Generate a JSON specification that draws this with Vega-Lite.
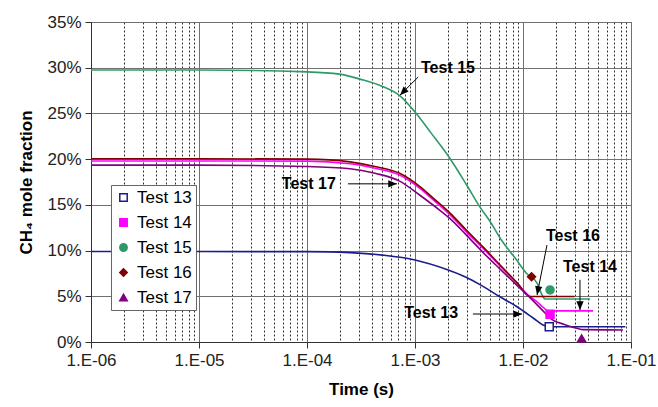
{
  "$schema": "https://vega.github.io/schema/vega-lite/v6.json",
  "width": 540,
  "height": 320,
  "autosize": {"type": "none"},
  "padding": {"left": 91, "top": 22, "right": 27, "bottom": 65},
  "background": "white",
  "config": {
    "font": "Liberation Sans",
    "view": {"stroke": "#6e6e6e", "strokeWidth": 1}
  },
  "datasets": {
    "curves": [
      {"test": "Test 13", "t": 1e-6, "f": 0.099},
      {"test": "Test 13", "t": 1e-5, "f": 0.099},
      {"test": "Test 13", "t": 1e-4, "f": 0.0988},
      {"test": "Test 13", "t": 2.5e-4, "f": 0.0978},
      {"test": "Test 13", "t": 5e-4, "f": 0.095},
      {"test": "Test 13", "t": 1e-3, "f": 0.0897},
      {"test": "Test 13", "t": 2e-3, "f": 0.079},
      {"test": "Test 13", "t": 3e-3, "f": 0.0705},
      {"test": "Test 13", "t": 4e-3, "f": 0.0628},
      {"test": "Test 13", "t": 6e-3, "f": 0.05},
      {"test": "Test 13", "t": 8.8e-3, "f": 0.0386},
      {"test": "Test 13", "t": 0.0125, "f": 0.026},
      {"test": "Test 13", "t": 0.0153, "f": 0.0186},
      {"test": "Test 13", "t": 0.0175, "f": 0.0167},
      {"test": "Test 13", "t": 0.0886, "f": 0.0167},
      {"test": "Test 14", "t": 1e-6, "f": 0.198},
      {"test": "Test 14", "t": 1e-5, "f": 0.198},
      {"test": "Test 14", "t": 1e-4, "f": 0.1978},
      {"test": "Test 14", "t": 2.5e-4, "f": 0.195},
      {"test": "Test 14", "t": 4.26e-4, "f": 0.19},
      {"test": "Test 14", "t": 7.2e-4, "f": 0.1825},
      {"test": "Test 14", "t": 1.11e-3, "f": 0.168},
      {"test": "Test 14", "t": 1.52e-3, "f": 0.154},
      {"test": "Test 14", "t": 2.11e-3, "f": 0.139},
      {"test": "Test 14", "t": 2.96e-3, "f": 0.121},
      {"test": "Test 14", "t": 4.26e-3, "f": 0.1025},
      {"test": "Test 14", "t": 6.1e-3, "f": 0.0835},
      {"test": "Test 14", "t": 8.8e-3, "f": 0.064},
      {"test": "Test 14", "t": 0.0116, "f": 0.0495},
      {"test": "Test 14", "t": 0.0135, "f": 0.044},
      {"test": "Test 14", "t": 0.0155, "f": 0.0375},
      {"test": "Test 14", "t": 0.0172, "f": 0.034},
      {"test": "Test 14", "t": 0.0446, "f": 0.034},
      {"test": "Test 15", "t": 1e-6, "f": 0.2975},
      {"test": "Test 15", "t": 1e-5, "f": 0.2975},
      {"test": "Test 15", "t": 1e-4, "f": 0.2955},
      {"test": "Test 15", "t": 2e-4, "f": 0.293},
      {"test": "Test 15", "t": 3.1e-4, "f": 0.2875},
      {"test": "Test 15", "t": 5e-4, "f": 0.2795},
      {"test": "Test 15", "t": 7.3e-4, "f": 0.269},
      {"test": "Test 15", "t": 1e-3, "f": 0.2515},
      {"test": "Test 15", "t": 1.4e-3, "f": 0.229},
      {"test": "Test 15", "t": 2.1e-3, "f": 0.201},
      {"test": "Test 15", "t": 3e-3, "f": 0.172},
      {"test": "Test 15", "t": 4e-3, "f": 0.1475},
      {"test": "Test 15", "t": 4.94e-3, "f": 0.132},
      {"test": "Test 15", "t": 6.35e-3, "f": 0.111},
      {"test": "Test 15", "t": 8.5e-3, "f": 0.0915},
      {"test": "Test 15", "t": 0.0108, "f": 0.075},
      {"test": "Test 15", "t": 0.0135, "f": 0.0645},
      {"test": "Test 15", "t": 0.0146, "f": 0.0545},
      {"test": "Test 15", "t": 0.016, "f": 0.047},
      {"test": "Test 15", "t": 0.0417, "f": 0.047},
      {"test": "Test 16", "t": 1e-6, "f": 0.2005},
      {"test": "Test 16", "t": 1e-5, "f": 0.2005},
      {"test": "Test 16", "t": 1e-4, "f": 0.2},
      {"test": "Test 16", "t": 2.5e-4, "f": 0.197},
      {"test": "Test 16", "t": 4.26e-4, "f": 0.192},
      {"test": "Test 16", "t": 7.2e-4, "f": 0.1845},
      {"test": "Test 16", "t": 1.11e-3, "f": 0.17},
      {"test": "Test 16", "t": 1.52e-3, "f": 0.156},
      {"test": "Test 16", "t": 2.11e-3, "f": 0.141},
      {"test": "Test 16", "t": 2.96e-3, "f": 0.123},
      {"test": "Test 16", "t": 4.26e-3, "f": 0.104},
      {"test": "Test 16", "t": 6.1e-3, "f": 0.0845},
      {"test": "Test 16", "t": 8.8e-3, "f": 0.065},
      {"test": "Test 16", "t": 0.0116, "f": 0.0498},
      {"test": "Test 16", "t": 0.03, "f": 0.0498},
      {"test": "Test 17", "t": 1e-6, "f": 0.1935},
      {"test": "Test 17", "t": 1e-5, "f": 0.1935},
      {"test": "Test 17", "t": 1e-4, "f": 0.192},
      {"test": "Test 17", "t": 2.5e-4, "f": 0.1895},
      {"test": "Test 17", "t": 4.26e-4, "f": 0.1845},
      {"test": "Test 17", "t": 7.2e-4, "f": 0.176},
      {"test": "Test 17", "t": 1.11e-3, "f": 0.1605},
      {"test": "Test 17", "t": 1.7e-3, "f": 0.144},
      {"test": "Test 17", "t": 2.11e-3, "f": 0.135},
      {"test": "Test 17", "t": 2.96e-3, "f": 0.1175},
      {"test": "Test 17", "t": 4.26e-3, "f": 0.098},
      {"test": "Test 17", "t": 6.1e-3, "f": 0.08},
      {"test": "Test 17", "t": 8.8e-3, "f": 0.062},
      {"test": "Test 17", "t": 0.0116, "f": 0.0485},
      {"test": "Test 17", "t": 0.0159, "f": 0.032},
      {"test": "Test 17", "t": 0.0178, "f": 0.026},
      {"test": "Test 17", "t": 0.0245, "f": 0.019},
      {"test": "Test 17", "t": 0.0316, "f": 0.015},
      {"test": "Test 17", "t": 0.036, "f": 0.0135},
      {"test": "Test 17", "t": 0.0843, "f": 0.0132}
    ],
    "markers": [
      {"series": "Test 13", "t": 0.0175, "f": 0.0167},
      {"series": "Test 14", "t": 0.0178, "f": 0.0303},
      {"series": "Test 15", "t": 0.0178, "f": 0.0569},
      {"series": "Test 16", "t": 0.012, "f": 0.0714},
      {"series": "Test 17", "t": 0.0349, "f": 0.004}
    ],
    "arrows": [
      {"label": "Test 13", "tx": 1.41e-3, "ty": 0.0317, "x1": 3.44e-3, "y1": 0.0306, "x2": 9.8e-3, "y2": 0.0306},
      {"label": "Test 14", "tx": 0.0417, "ty": 0.082, "x1": 0.0337, "y1": 0.068, "x2": 0.0337, "y2": 0.035},
      {"label": "Test 15", "tx": 2.02e-3, "ty": 0.2997, "x1": 1.07e-3, "y1": 0.2898, "x2": 7.26e-4, "y2": 0.27},
      {"label": "Test 16", "tx": 0.029, "ty": 0.116, "x1": 0.01667, "y1": 0.106, "x2": 0.0135, "y2": 0.0515},
      {"label": "Test 17", "tx": 1.04e-4, "ty": 0.173, "x1": 2.4e-4, "y1": 0.173, "x2": 6.8e-4, "y2": 0.173}
    ]
  },
  "layer": [
    {
      "data": {"name": "curves"},
      "mark": {"type": "line", "strokeWidth": 1.6, "interpolate": "monotone"},
      "encoding": {
        "x": {
          "field": "t", "type": "quantitative",
          "scale": {"type": "log", "domain": [1e-6, 0.1], "nice": false},
          "axis": {
            "title": "Time (s)",
            "titleFontSize": 17, "titleFontWeight": "bold", "titleColor": "#000", "titlePadding": 13,
            "values": [1e-6, 2e-6, 3e-6, 4e-6, 5e-6, 6e-6, 7e-6, 8e-6, 9e-6,
                       1e-5, 2e-5, 3e-5, 4e-5, 5e-5, 6e-5, 7e-5, 8e-5, 9e-5,
                       1e-4, 2e-4, 3e-4, 4e-4, 5e-4, 6e-4, 7e-4, 8e-4, 9e-4,
                       1e-3, 2e-3, 3e-3, 4e-3, 5e-3, 6e-3, 7e-3, 8e-3, 9e-3,
                       1e-2, 2e-2, 3e-2, 4e-2, 5e-2, 6e-2, 7e-2, 8e-2, 9e-2, 1e-1],
            "labelExpr": "abs(log(datum.value)/LN10 - round(log(datum.value)/LN10)) < 0.01 ? '1.E-0' + round(-log(datum.value)/LN10) : ''",
            "labelOverlap": false,
            "labelFlush": false,
            "labelFontSize": 17, "labelColor": "#222", "labelPadding": 4,
            "grid": true,
            "gridColor": {"condition": {"test": "abs(log(datum.value)/LN10 - round(log(datum.value)/LN10)) < 0.01", "value": "#707070"}, "value": "#333333"},
            "gridDash": {"condition": {"test": "abs(log(datum.value)/LN10 - round(log(datum.value)/LN10)) < 0.01", "value": []}, "value": [2, 2]},
            "gridWidth": 1,
            "tickOpacity": {"condition": {"test": "abs(log(datum.value)/LN10 - round(log(datum.value)/LN10)) < 0.01", "value": 1}, "value": 0},
            "tickSize": 6, "tickColor": "#333", "domainColor": "#333"
          }
        },
        "y": {
          "field": "f", "type": "quantitative",
          "scale": {"domain": [0, 0.35], "nice": false, "zero": true},
          "axis": {
            "title": "CH₄ mole fraction",
            "titleFontSize": 17, "titleFontWeight": "bold", "titleColor": "#000", "titlePadding": 11,
            "values": [0, 0.05, 0.1, 0.15, 0.2, 0.25, 0.3, 0.35],
            "format": ".0%",
            "labelFontSize": 17, "labelColor": "#222", "labelPadding": 4,
            "grid": true, "gridColor": "#707070", "gridWidth": 1,
            "tickSize": 6, "tickColor": "#333", "domainColor": "#333"
          }
        },
        "color": {
          "field": "test", "type": "nominal",
          "scale": {"range": ["#1c1c8c", "#ff00ff", "#2f9a68", "#800000", "#800080"]},
          "legend": null
        }
      }
    },
    {
      "data": {"name": "markers"},
      "mark": {"type": "point", "filled": true, "size": 64, "strokeWidth": 1.5, "opacity": 1},
      "encoding": {
        "x": {"field": "t", "type": "quantitative"},
        "y": {"field": "f", "type": "quantitative"},
        "shape": {
          "field": "series", "type": "nominal",
          "scale": {"domain": ["Test 13", "Test 14", "Test 15", "Test 16", "Test 17"],
                    "range": ["square", "square", "circle", "diamond", "triangle-up"]},
          "legend": {
            "title": null, "orient": "none", "legendX": 20, "legendY": 163,
            "fillColor": "white", "strokeColor": "#666", "padding": 4,
            "labelFontSize": 17, "labelColor": "#000", "labelOffset": 5,
            "rowPadding": 7, "symbolSize": 55, "symbolStrokeWidth": 1.5
          }
        },
        "fill": {
          "field": "series", "type": "nominal",
          "scale": {"domain": ["Test 13", "Test 14", "Test 15", "Test 16", "Test 17"],
                    "range": ["#ffffff", "#ff00ff", "#2f9a68", "#800000", "#800080"]},
          "legend": {
            "title": null, "orient": "none", "legendX": 20, "legendY": 163,
            "fillColor": "white", "strokeColor": "#666", "padding": 4,
            "labelFontSize": 17, "labelColor": "#000", "labelOffset": 5,
            "rowPadding": 7, "symbolSize": 55, "symbolStrokeWidth": 1.5
          }
        },
        "stroke": {
          "field": "series", "type": "nominal",
          "scale": {"domain": ["Test 13", "Test 14", "Test 15", "Test 16", "Test 17"],
                    "range": ["#1c1c8c", "#ff00ff", "#2f9a68", "#800000", "#800080"]},
          "legend": {
            "title": null, "orient": "none", "legendX": 20, "legendY": 163,
            "fillColor": "white", "strokeColor": "#666", "padding": 4,
            "labelFontSize": 17, "labelColor": "#000", "labelOffset": 5,
            "rowPadding": 7, "symbolSize": 55, "symbolStrokeWidth": 1.5
          }
        }
      }
    },
    {
      "data": {"name": "arrows"},
      "mark": {"type": "rule", "color": "#000", "strokeWidth": 1},
      "encoding": {
        "x": {"field": "x1", "type": "quantitative"},
        "y": {"field": "y1", "type": "quantitative"},
        "x2": {"field": "x2"},
        "y2": {"field": "y2"}
      }
    },
    {
      "data": {"name": "arrows"},
      "transform": [{"filter": "datum.label == 'Test 13' || datum.label == 'Test 17'"}],
      "mark": {"type": "point", "filled": true, "color": "#000", "opacity": 1, "size": 300, "strokeWidth": 0, "shape": "M0,0L-1,-0.42L-1,0.42Z"},
      "encoding": {
        "x": {"field": "x2", "type": "quantitative"},
        "y": {"field": "y2", "type": "quantitative"}
      }
    },
    {
      "data": {"name": "arrows"},
      "transform": [{"filter": "datum.label == 'Test 14'"}],
      "mark": {"type": "point", "filled": true, "color": "#000", "opacity": 1, "size": 300, "strokeWidth": 0, "shape": "M0,0L-0.42,-1L0.42,-1Z"},
      "encoding": {
        "x": {"field": "x2", "type": "quantitative"},
        "y": {"field": "y2", "type": "quantitative"}
      }
    },
    {
      "data": {"name": "arrows"},
      "transform": [{"filter": "datum.label == 'Test 15'"}],
      "mark": {"type": "point", "filled": true, "color": "#000", "opacity": 1, "size": 300, "strokeWidth": 0, "shape": "M0,0L1.004,-0.41L0.41,-1.004Z"},
      "encoding": {
        "x": {"field": "x2", "type": "quantitative"},
        "y": {"field": "y2", "type": "quantitative"}
      }
    },
    {
      "data": {"name": "arrows"},
      "transform": [{"filter": "datum.label == 'Test 16'"}],
      "mark": {"type": "point", "filled": true, "color": "#000", "opacity": 1, "size": 300, "strokeWidth": 0, "shape": "M0,0L-0.221,-1.063L0.603,-0.902Z"},
      "encoding": {
        "x": {"field": "x2", "type": "quantitative"},
        "y": {"field": "y2", "type": "quantitative"}
      }
    },
    {
      "data": {"name": "arrows"},
      "mark": {"type": "text", "fontSize": 16, "fontWeight": "bold", "color": "#000", "align": "center", "baseline": "middle"},
      "encoding": {
        "x": {"field": "tx", "type": "quantitative"},
        "y": {"field": "ty", "type": "quantitative"},
        "text": {"field": "label"}
      }
    }
  ]
}
